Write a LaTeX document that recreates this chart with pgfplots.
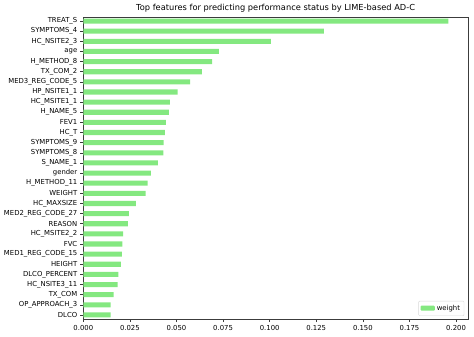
\documentclass[border=0pt]{standalone}
\usepackage{pgfplots}
\pgfplotsset{compat=1.18}
\usepackage{fontspec}
\setmainfont{DejaVu Sans}
\definecolor{barg}{RGB}{132,232,128}
\definecolor{spine}{RGB}{60,60,60}
\begin{document}
\begin{tikzpicture}
\begin{axis}[
  at={(0,0)}, anchor=south west,
  scale only axis,
  width=384.7bp, height=302bp,
  xbar, bar width=0.5,
  y dir=reverse,
  xmin=0, xmax=0.2064,
  ymin=-0.4, ymax=29.4,
  xtick={0,0.025,0.05,0.075,0.1,0.125,0.15,0.175,0.2},
  xticklabels={0.000,0.025,0.050,0.075,0.100,0.125,0.150,0.175,0.200},
  ytick={0,...,29},
  yticklabels={TREAT\_S,SYMPTOMS\_4,HC\_NSITE2\_3,age,H\_METHOD\_8,TX\_COM\_2,MED3\_REG\_CODE\_5,HP\_NSITE1\_1,HC\_MSITE1\_1,H\_NAME\_5,FEV1,HC\_T,SYMPTOMS\_9,SYMPTOMS\_8,S\_NAME\_1,gender,H\_METHOD\_11,WEIGHT,HC\_MAXSIZE,MED2\_REG\_CODE\_27,REASON,HC\_MSITE2\_2,FVC,MED1\_REG\_CODE\_15,HEIGHT,DLCO\_PERCENT,HC\_NSITE3\_11,TX\_COM,OP\_APPROACH\_3,DLCO},
  tick align=outside,
  tick pos=left,
  major tick length=3bp,
  tick style={spine, line width=0.5pt},
  axis line style={spine, line width=0.6pt},
  ticklabel style={font=\fontsize{6.9}{8}\selectfont, text=black},
  yticklabel style={xshift=0.5bp},
  xticklabel style={yshift=0.5bp},
  /pgf/number format/assume math mode=true,
  title={Top features for predicting performance status by LIME-based AD-C},
  title style={font=\fontsize{8.3}{10}\selectfont, yshift=-4.5bp},
  legend pos=south east,
  legend style={font=\fontsize{6.9}{8}\selectfont, draw=black!15, rounded corners=1pt, inner sep=2pt, at={(0.99,0.01)}, anchor=south east},
  legend image code/.code={\fill[barg] (0cm,-0.08cm) rectangle (0.5cm,0.1cm);},
]
\addplot[fill=barg, draw=none] table[x=v, y=i] {
i v
0 0.1959
1 0.1291
2 0.1006
3 0.0727
4 0.0691
5 0.0636
6 0.0573
7 0.0506
8 0.0464
9 0.0459
10 0.0443
11 0.0438
12 0.0431
13 0.0429
14 0.0400
15 0.0363
16 0.0345
17 0.0334
18 0.0282
19 0.0245
20 0.0239
21 0.0214
22 0.0209
23 0.0207
24 0.0202
25 0.0188
26 0.0184
27 0.0163
28 0.0147
29 0.0147
};
\addlegendentry{weight}
\end{axis}
\pgfresetboundingbox
\path[use as bounding box] (-83.3bp,-18bp) rectangle (390.7bp,319bp);
\end{tikzpicture}
\end{document}
